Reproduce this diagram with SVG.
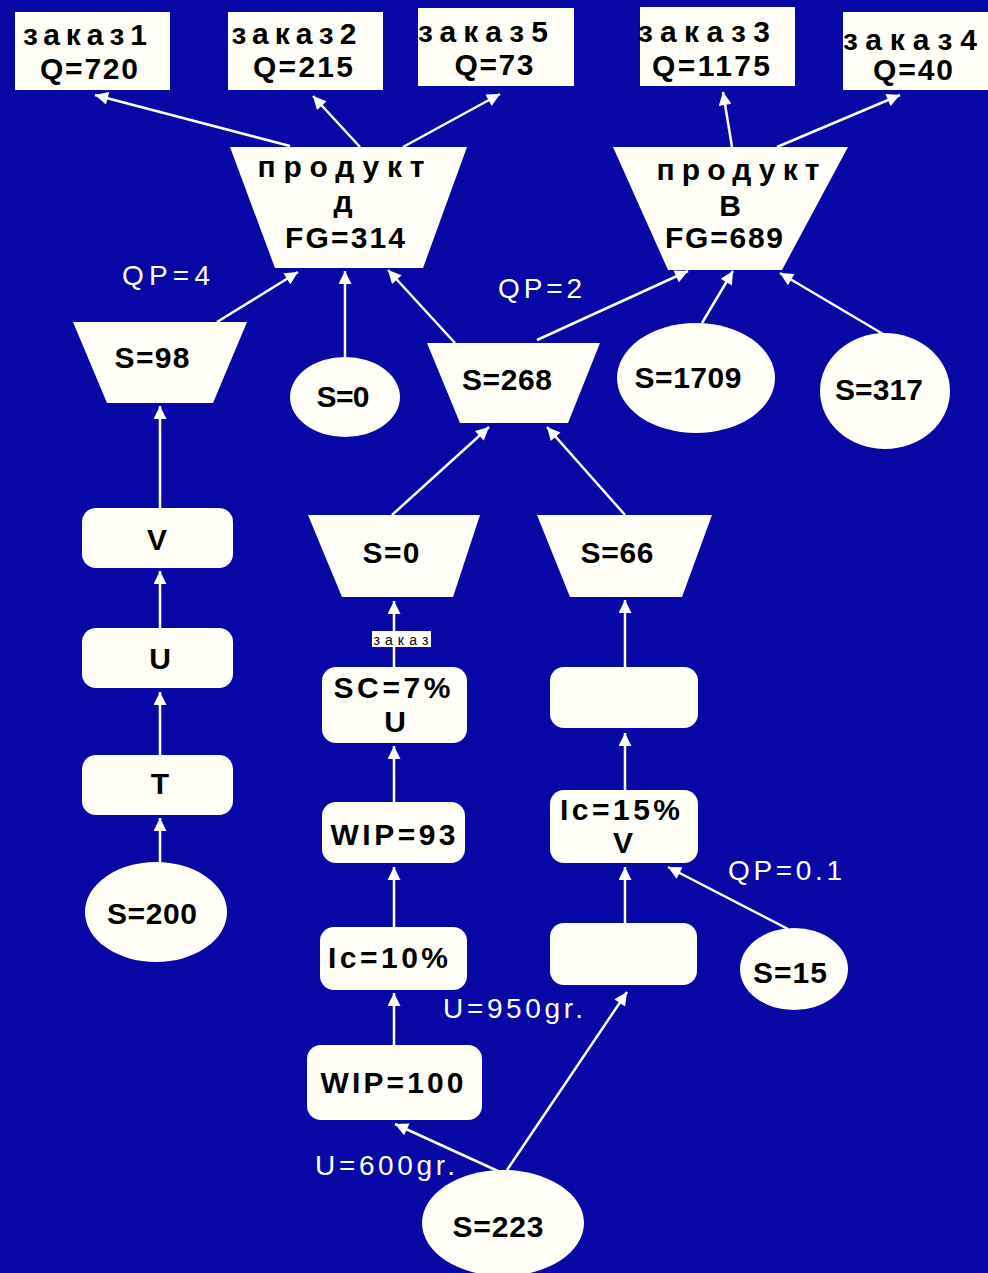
<svg xmlns="http://www.w3.org/2000/svg" width="988" height="1273" viewBox="0 0 988 1273">
<defs>
<style>
.bg{fill:#0808a6}
.n{fill:#fffff8;stroke:none}
.t{font-family:"Liberation Sans",Arial,sans-serif;font-weight:bold;fill:#000;text-anchor:middle;font-size:30px}
.l{font-family:"Liberation Sans",Arial,sans-serif;fill:#fff;text-anchor:middle;font-size:28px}
.c{stroke:#fff;stroke-width:2.5;fill:none;marker-end:url(#ah)}
</style>
<marker id="ah" viewBox="0 0 10 10" refX="10" refY="5" markerWidth="15" markerHeight="13" markerUnits="userSpaceOnUse" orient="auto">
<path d="M0,0 L10,5 L0,10 z" fill="#fff"/>
</marker>
</defs>
<rect class="bg" x="0" y="0" width="988" height="1273"/>

<g id="connectors">
<line class="c" x1="290" y1="146" x2="95" y2="95"/>
<line class="c" x1="360" y1="147" x2="313" y2="96"/>
<line class="c" x1="403" y1="147" x2="500" y2="94"/>
<line class="c" x1="732" y1="147" x2="723" y2="92"/>
<line class="c" x1="777" y1="147" x2="900" y2="95"/>
<line class="c" x1="217" y1="322" x2="298" y2="272"/>
<line class="c" x1="345" y1="357" x2="345" y2="271"/>
<line class="c" x1="455" y1="343" x2="388" y2="270"/>
<line class="c" x1="537" y1="340" x2="688" y2="271"/>
<line class="c" x1="702" y1="323" x2="733" y2="271"/>
<line class="c" x1="883" y1="334" x2="780" y2="273"/>
<line class="c" x1="392" y1="515" x2="489" y2="427"/>
<line class="c" x1="625" y1="515" x2="547" y2="427"/>
<line class="c" x1="160" y1="508" x2="160" y2="406"/>
<line class="c" x1="160" y1="628" x2="160" y2="571"/>
<line class="c" x1="160" y1="755" x2="160" y2="692"/>
<line class="c" x1="160" y1="862" x2="160" y2="818"/>
<line class="c" x1="394" y1="667" x2="394" y2="601"/>
<line class="c" x1="394" y1="802" x2="394" y2="746"/>
<line class="c" x1="394" y1="927" x2="394" y2="867"/>
<line class="c" x1="394" y1="1045" x2="394" y2="993"/>
<line class="c" x1="500" y1="1172" x2="395" y2="1124"/>
<line class="c" x1="507" y1="1170" x2="627" y2="992"/>
<line class="c" x1="625" y1="667" x2="625" y2="600"/>
<line class="c" x1="625" y1="790" x2="625" y2="733"/>
<line class="c" x1="625" y1="923" x2="625" y2="867"/>
<line class="c" x1="788" y1="929" x2="668" y2="867"/>
</g>

<g id="order1"><rect class="n" x="15" y="12" width="155" height="78"/>
<text class="t" x="85" y="45" textLength="124">заказ1</text>
<text class="t" x="89" y="79" font-size="26" textLength="98">Q=720</text></g>

<g id="order2"><rect class="n" x="228" y="12" width="155" height="78"/>
<text class="t" x="294" y="44" textLength="125">заказ2</text>
<text class="t" x="303" y="77" font-size="26" textLength="100">Q=215</text></g>

<g id="order5"><rect class="n" x="418" y="8" width="156" height="78"/>
<text class="t" x="483" y="42" textLength="130">заказ5</text>
<text class="t" x="494" y="75" font-size="26" textLength="79">Q=73</text></g>

<g id="order3"><rect class="n" x="640" y="7" width="155" height="79"/>
<text class="t" x="704" y="42" textLength="132">заказ3</text>
<text class="t" x="711" y="76" font-size="26" textLength="118">Q=1175</text></g>

<g id="order4"><rect class="n" x="843" y="12" width="145" height="78"/>
<text class="t" x="910" y="50" textLength="134">заказ4</text>
<text class="t" x="913" y="80" font-size="26" textLength="80">Q=40</text></g>

<g id="productD"><polygon class="n" points="230,147 467,147 423,268 275,268"/>
<text class="t" x="341" y="177" font-size="32" textLength="167">продукт</text>
<text class="t" x="343" y="212" font-size="32">д</text>
<text class="t" x="345" y="248" font-size="28" textLength="120">FG=314</text></g>

<g id="productB"><polygon class="n" points="613,147 848,147 782,270 668,270"/>
<text class="t" x="738" y="180" font-size="30" textLength="163">продукт</text>
<text class="t" x="730" y="216" font-size="27">В</text>
<text class="t" x="724" y="248" font-size="28" textLength="118">FG=689</text></g>

<g id="s98"><polygon class="n" points="73,322 247,322 213,403 107,403"/>
<text class="t" x="152" y="368" font-size="32" textLength="75">S=98</text></g>

<g id="s0a"><ellipse class="n" cx="345" cy="397" rx="55" ry="40"/>
<text class="t" x="343" y="407" font-size="30" textLength="53">S=0</text></g>

<g id="s268"><polygon class="n" points="427,343 600,343 568,423 460,423"/>
<text class="t" x="507" y="390" font-size="32" textLength="90">S=268</text></g>

<g id="s1709"><ellipse class="n" cx="696" cy="378" rx="79" ry="55"/>
<text class="t" x="688" y="388" font-size="32" textLength="107">S=1709</text></g>

<g id="s317"><ellipse class="n" cx="885" cy="391" rx="65" ry="58"/>
<text class="t" x="879" y="400" font-size="32" textLength="88">S=317</text></g>

<g id="opV"><rect class="n" x="82" y="508" width="151" height="60" rx="14"/>
<text class="t" x="157" y="550" font-size="30">V</text></g>

<g id="opU"><rect class="n" x="82" y="628" width="151" height="60" rx="14"/>
<text class="t" x="160" y="669" font-size="30">U</text></g>

<g id="opT"><rect class="n" x="82" y="755" width="151" height="60" rx="14"/>
<text class="t" x="160" y="794" font-size="30">T</text></g>

<g id="s200"><ellipse class="n" cx="156" cy="912" rx="71" ry="50"/>
<text class="t" x="152" y="924" font-size="32" textLength="90">S=200</text></g>

<g id="s0b"><polygon class="n" points="308,515 480,515 453,597 342,597"/>
<text class="t" x="391" y="563" font-size="30" textLength="57">S=0</text></g>

<g id="s66"><polygon class="n" points="537,515 712,515 682,597 570,597"/>
<text class="t" x="617" y="563" font-size="32" textLength="73">S=66</text></g>

<g id="sc7"><rect class="n" x="322" y="667" width="145" height="76" rx="14"/>
<text class="t" x="392" y="698" font-size="30" textLength="117">SC=7%</text>
<text class="t" x="395" y="732" font-size="30">U</text></g>

<g id="wip93"><rect class="n" x="322" y="802" width="143" height="61" rx="14"/>
<text class="t" x="393" y="845" font-size="30" textLength="125">WIP=93</text></g>

<g id="blank1"><rect class="n" x="550" y="667" width="148" height="61" rx="14"/></g>

<g id="ic15"><rect class="n" x="550" y="790" width="148" height="73" rx="14"/>
<text class="t" x="620" y="820" font-size="30" textLength="120">Ic=15%</text>
<text class="t" x="623" y="853" font-size="28">V</text></g>

<g id="ic10"><rect class="n" x="320" y="927" width="147" height="63" rx="14"/>
<text class="t" x="388" y="968" font-size="30" textLength="120">Ic=10%</text></g>

<g id="blank2"><rect class="n" x="550" y="923" width="147" height="62" rx="14"/></g>

<g id="s15"><ellipse class="n" cx="794" cy="969" rx="54" ry="41"/>
<text class="t" x="790" y="983" font-size="30" textLength="74">S=15</text></g>

<g id="wip100"><rect class="n" x="307" y="1045" width="175" height="75" rx="14"/>
<text class="t" x="392" y="1093" font-size="30" textLength="143">WIP=100</text></g>

<g id="s223"><ellipse class="n" cx="503" cy="1223" rx="81" ry="53"/>
<text class="t" x="498" y="1237" font-size="32" textLength="91">S=223</text></g>

<g id="labels">
<text class="l" x="166" y="285" textLength="88">QP=4</text>
<text class="l" x="540" y="298" textLength="84">QP=2</text>
<text class="l" x="785" y="880" textLength="114">QP=0.1</text>
<text class="l" x="513" y="1018" textLength="140">U=950gr.</text>
<text class="l" x="385" y="1175" textLength="140">U=600gr.</text>
<rect x="372" y="631" width="59" height="16" fill="#fff"/>
<text x="401" y="645" font-family="Liberation Sans, Arial, sans-serif" font-size="14" fill="#000" text-anchor="middle" textLength="55">заказ</text>
</g>
</svg>
